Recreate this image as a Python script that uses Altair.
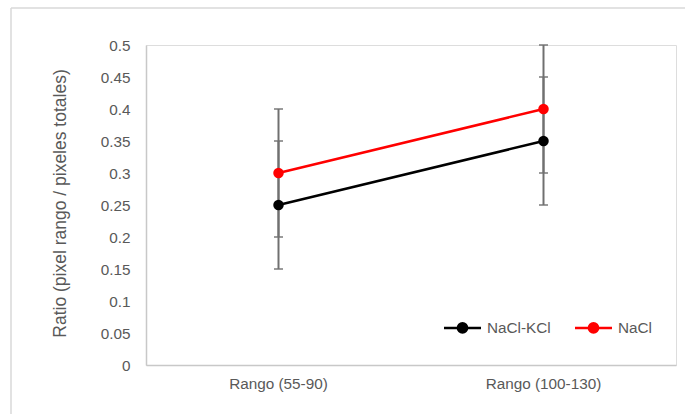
import altair as alt
import pandas as pd

categories = ["Rango (55-90)", "Rango (100-130)"]
series_names = ["NaCl-KCl", "NaCl"]
nacl_kcl = [0.25, 0.35]
nacl = [0.30, 0.40]
err_kcl = [0.10, 0.10]
err_nacl = [0.10, 0.10]
y_ticks = [0, 0.05, 0.1, 0.15, 0.2, 0.25, 0.3, 0.35, 0.4, 0.45, 0.5]
colors = ["#000000", "#FF0000"]

rows = []
for s, vals, errs in [(series_names[0], nacl_kcl, err_kcl), (series_names[1], nacl, err_nacl)]:
    for c, v, e in zip(categories, vals, errs):
        rows.append({"cat": c, "series": s, "value": v, "lo": v - e, "hi": v + e})
df = pd.DataFrame(rows)

FONT = "Liberation Sans"
GRAY_TXT = "#595959"
LBL = 15.3

x_axis = alt.Axis(title=None, labelAngle=0, ticks=False, domainColor="#C8C8C8",
                  domainWidth=1.5, labelColor=GRAY_TXT, labelFont=FONT,
                  labelFontSize=LBL, labelPadding=11)
x_scale = alt.Scale(paddingInner=0, paddingOuter=0)
y_scale = alt.Scale(domain=[0, 0.5], nice=False)
y_axis = alt.Axis(title="Ratio (pixel rango / pixeles totales)", values=y_ticks,
                  format="~g", grid=False, ticks=False, domainColor="#C8C8C8", domainWidth=1.5,
                  labelOverlap=False, labelColor=GRAY_TXT, labelFont=FONT, labelFontSize=LBL,
                  labelPadding=16, titleColor=GRAY_TXT, titleFont=FONT, titleFontSize=17.5,
                  titleFontWeight="normal", titleAngle=-90, titleX=-86, titleY=158,
                  titleAlign="center", titleBaseline="middle")


def X():
    return alt.X("cat:N", sort=categories, scale=x_scale, axis=x_axis)


def Y(field):
    return alt.Y(field, type="quantitative", scale=y_scale, axis=y_axis)


base = alt.Chart(df)

err_rule = base.mark_rule(color="#707070", strokeWidth=2).encode(
    x=X(), y=Y("lo"), y2="hi:Q")
cap_lo = base.mark_tick(color="#707070", thickness=2, size=9, orient="horizontal").encode(
    x=X(), y=Y("lo"))
cap_hi = base.mark_tick(color="#707070", thickness=2, size=9, orient="horizontal").encode(
    x=X(), y=Y("hi"))

color_scale = alt.Scale(domain=series_names, range=colors)
color_enc = alt.Color("series:N", scale=color_scale,
                      legend=alt.Legend(title=None, orient="none", direction="horizontal",
                                        legendX=306, legendY=272,
                                        symbolType="M-2,0L2,0M-0.5,0A0.5,0.5 0 1,0 0.5,0A0.5,0.5 0 1,0 -0.5,0Z",
                                        symbolSize=342, symbolStrokeWidth=2.5,
                                        labelFont=FONT, labelFontSize=LBL, labelColor=GRAY_TXT,
                                        labelOffset=14, columnPadding=19))

lines = base.mark_line(strokeWidth=2.5).encode(
    x=X(), y=Y("value"), color=color_enc, order="series:N")
points = base.mark_circle(size=110, opacity=1).encode(
    x=X(), y=Y("value"), color=color_enc)

frame_left = alt.Chart(pd.DataFrame({"a": [0]})).mark_rule(color="#D9D9D9", strokeWidth=1.5).encode(
    x=alt.value(-135), y=alt.value(-37), y2=alt.value(400))
frame_top = alt.Chart(pd.DataFrame({"a": [0]})).mark_rule(color="#D9D9D9", strokeWidth=1.5).encode(
    x=alt.value(-135), x2=alt.value(560), y=alt.value(-37))

chart = alt.layer(frame_left, frame_top, err_rule, cap_lo, cap_hi, lines, points).properties(
    width=530, height=320,
    autosize=alt.AutoSizeParams(type="none"),
    padding={"left": 146, "top": 45, "right": 9, "bottom": 49},
).configure_view(stroke=None).configure(background="white")

chart.save("out.html", embed_options={"renderer": "svg", "actions": False})
